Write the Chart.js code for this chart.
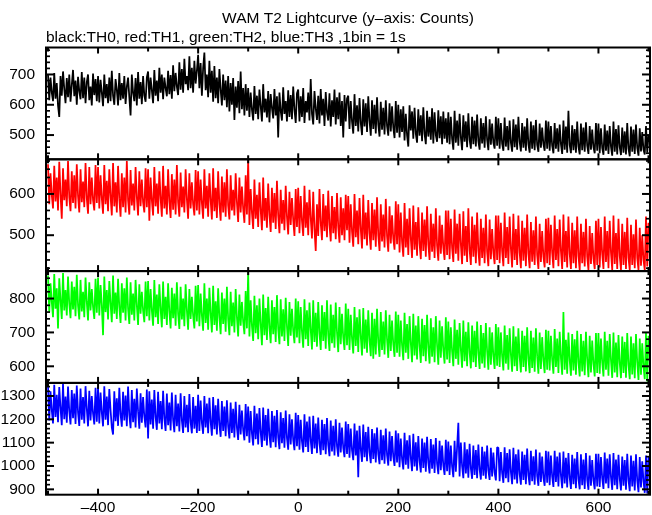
<!DOCTYPE html>
<html>
<head>
<meta charset="utf-8">
<script src="https://cdn.jsdelivr.net/npm/chart.js@4.4.1/dist/chart.umd.min.js"></script>
<style>
  html, body { margin: 0; padding: 0; background: #fff; }
  #wrap { width: 652px; height: 515px; position: relative; }
</style>
</head>
<body>
<div id="wrap"><canvas id="c"></canvas></div>
<script>
// ---- data (counts; one value every 2.5 s starting at -500 s) ----
const TIME_START = -500;
const TIME_STEP = 2.5;

const th0 = [ // black
  700,615,690,640,612,705,620,672,598,560,695,630,710,652,605,688,625,700,610,665,
  715,628,680,600,692,645,618,708,622,690,605,675,700,615,660,598,703,632,685,612,
  695,608,682,640,595,700,622,668,605,690,612,712,630,600,685,650,598,705,615,672,
  620,695,603,660,690,625,565,700,640,612,688,598,708,620,675,602,695,630,610,690,
  710,620,690,648,605,715,630,680,612,722,640,700,618,690,655,628,712,635,698,620,
  730,645,705,660,632,740,650,718,640,752,668,695,648,760,655,722,640,745,670,712,
  765,655,738,630,720,772,648,700,625,745,640,712,610,728,622,690,605,718,650,598,
  700,615,680,592,695,578,672,600,688,550,660,590,678,572,710,585,655,565,668,580,
  655,560,640,585,548,662,570,630,552,650,595,545,668,575,620,558,645,542,635,590,
  555,652,565,628,492,640,580,548,658,570,612,545,648,560,632,552,660,585,540,638,
  650,545,628,560,655,540,612,575,640,548,685,570,535,645,588,550,630,538,652,565,
  620,530,642,575,548,638,528,615,560,650,535,625,552,640,530,612,492,632,545,620,
  630,520,612,545,505,635,530,598,512,622,540,500,618,528,605,510,628,548,498,615,
  520,600,505,625,535,495,610,518,590,502,615,530,498,605,512,595,525,490,612,508,
  600,492,585,510,595,482,570,500,462,598,515,578,488,590,505,475,585,498,565,480,
  592,505,470,580,495,560,485,588,472,575,500,478,582,490,562,470,578,488,555,475,
  575,470,560,488,452,580,475,548,465,570,492,450,565,478,545,460,572,485,455,560,
  470,548,462,568,480,452,555,472,540,458,562,485,450,552,468,538,475,455,560,465,
  555,455,540,472,448,558,462,530,450,548,475,445,552,460,535,452,560,478,446,540,
  458,528,448,555,470,442,545,455,532,450,550,468,445,538,458,525,470,448,548,455,
  545,448,530,465,440,540,455,522,445,535,470,438,548,452,528,442,580,468,440,532,
  450,520,442,545,462,436,538,450,525,445,542,465,438,530,452,518,460,440,540,448,
  538,440,522,458,435,535,448,515,438,530,462,432,545,445,520,436,532,460,434,525,
  442,512,436,540,455,430,528,445,518,438,535,458,432,522,446,510,452,436,530,442,
  500
];
const th1 = [ // red
  672,575,650,598,565,668,582,640,560,678,600,540,662,585,635,570,680,592,558,655,
  578,645,565,672,595,555,660,580,630,568,675,590,552,665,575,640,585,560,670,578,
  665,565,645,590,552,670,575,632,558,660,595,548,675,570,628,555,668,588,545,650,
  568,640,555,680,585,550,658,572,625,560,665,592,548,655,570,635,580,555,662,568,
  660,535,640,585,548,665,570,625,552,655,590,545,668,565,620,550,660,582,542,648,
  562,635,550,670,580,545,652,568,618,555,660,588,540,650,565,628,575,548,658,560,
  655,550,635,578,540,660,565,620,545,650,585,538,662,558,615,542,655,575,535,642,
  555,628,545,660,572,538,645,560,610,548,650,580,532,640,555,618,565,530,645,550,
  682,525,612,555,515,635,540,598,520,628,562,512,640,535,590,518,625,550,508,615,
  530,602,515,632,548,505,610,528,585,512,620,545,502,605,525,590,538,498,612,520,
  615,505,595,535,498,620,518,580,500,610,542,492,605,515,462,575,498,612,530,488,
  600,510,572,495,608,525,485,595,505,568,490,602,520,482,592,500,565,488,598,512,
  595,482,575,510,472,600,495,560,478,590,515,468,598,490,555,475,585,505,465,578,
  488,562,472,592,500,462,575,485,550,470,588,498,460,570,480,548,492,465,582,478,
  575,458,555,485,448,578,470,540,452,565,492,445,572,465,532,450,568,480,442,555,
  462,538,448,570,478,440,552,460,528,445,565,475,438,548,455,525,470,440,560,452,
  560,442,540,470,435,562,455,528,438,552,478,430,558,450,522,435,565,465,428,545,
  448,525,432,555,462,426,540,445,518,432,550,460,425,538,442,515,458,430,548,440,
  548,432,530,462,425,555,445,520,430,545,468,422,552,440,515,428,548,458,420,535,
  438,518,425,550,455,420,532,436,512,428,545,452,418,528,435,510,448,422,540,432,
  542,428,525,458,420,548,440,515,425,538,462,418,550,435,510,422,545,455,418,530,
  432,512,420,545,450,416,528,432,508,424,540,448,416,522,430,505,444,418,535,428,
  540,422,520,455,418,545,435,510,420,535,458,416,548,430,505,418,540,450,416,528,
  428,508,418,542,445,416,525,428,502,420,538,445,416,518,426,500,440,416,545,424,
  530
];
const th2 = [ // green
  868,760,845,790,745,872,770,830,712,860,795,740,875,765,825,750,865,785,742,850,
  768,835,748,870,780,738,855,762,820,745,862,790,735,848,765,828,775,740,858,758,
  862,750,840,780,692,865,760,825,738,852,785,730,868,755,818,740,858,775,728,845,
  758,830,735,862,770,725,848,752,815,735,855,780,722,842,755,820,765,730,850,748,
  852,735,828,765,720,855,745,812,725,842,770,715,850,740,805,722,845,762,712,832,
  742,815,720,848,755,710,835,738,800,718,842,765,708,828,740,805,750,712,838,732,
  840,718,815,750,705,845,728,800,708,832,755,700,838,722,792,705,830,745,695,818,
  725,800,702,835,740,692,820,718,788,700,828,745,688,812,720,790,732,695,822,712,
  878,688,795,720,675,808,698,780,680,800,725,662,812,692,772,678,805,715,668,795,
  695,775,672,810,710,665,798,688,768,675,802,718,660,790,690,770,705,668,800,685,
  792,668,775,702,655,798,680,765,660,788,708,650,795,672,758,658,790,698,648,780,
  675,760,652,795,692,645,782,668,752,655,788,700,642,775,665,755,685,648,785,662,
  770,648,752,682,638,775,660,745,642,768,688,632,772,652,738,640,765,678,630,758,
  622,740,635,770,672,628,760,648,732,635,765,680,625,752,645,735,665,628,762,640,
  752,628,735,662,618,758,640,725,622,748,668,612,755,632,720,620,748,660,610,740,
  630,722,615,752,655,608,742,628,715,612,748,662,605,735,625,718,648,608,745,620,
  732,610,715,645,600,738,622,708,605,728,650,596,735,615,702,600,730,642,594,720,
  612,705,598,732,638,592,722,608,698,596,728,645,590,715,605,700,630,592,725,602,
  715,598,700,630,588,720,608,692,590,712,635,584,718,600,688,586,712,628,582,705,
  598,690,585,715,622,580,705,595,685,584,712,630,578,700,592,686,618,580,708,590,
  705,588,690,620,578,710,598,682,580,702,625,575,760,590,678,578,700,618,572,695,
  588,680,575,705,612,570,695,585,675,574,702,620,568,690,582,676,608,570,698,580,
  698,578,682,612,570,702,590,675,572,695,618,566,700,582,670,568,692,610,565,688,
  580,672,566,698,605,562,688,576,668,565,695,612,560,682,575,668,600,562,700,555,
  690
];
const th3 = [ // blue
  1345,1195,1320,1240,1182,1348,1210,1305,1188,1338,1250,1175,1352,1200,1298,1185,1340,1235,1178,1325,
  1205,1310,1180,1345,1230,1172,1332,1198,1295,1182,1342,1245,1170,1322,1195,1300,1225,1178,1335,1190,
  1338,1182,1315,1228,1170,1342,1198,1298,1175,1330,1240,1165,1135,1320,1192,1290,1172,1335,1222,1168,
  1318,1195,1302,1170,1340,1218,1162,1325,1188,1288,1165,1332,1235,1160,1312,1185,1295,1212,1165,1328,
  1118,1320,1178,1285,1160,1325,1210,1155,1318,1182,1278,1158,1322,1205,1150,1310,1175,1272,1152,1315,
  1198,1145,1305,1170,1268,1148,1312,1195,1142,1300,1165,1262,1145,1308,1188,1140,1295,1160,1258,1142,
  1305,1150,1280,1185,1138,1300,1165,1268,1140,1292,1190,1130,1295,1158,1260,1135,1288,1178,1125,1278,
  1150,1255,1128,1282,1170,1118,1272,1142,1245,1122,1275,1165,1112,1262,1135,1238,1155,1110,1265,1128,
  1255,1100,1235,1140,1088,1258,1115,1225,1092,1248,1145,1082,1250,1108,1218,1088,1245,1132,1078,1235,
  1102,1215,1080,1240,1125,1072,1230,1098,1205,1078,1238,1120,1070,1222,1092,1200,1112,1068,1228,1085,
  1218,1070,1198,1105,1058,1222,1082,1190,1060,1212,1110,1052,1215,1075,1182,1055,1208,1098,1048,1198,
  1068,1180,1050,1205,1090,1042,1195,1062,1172,1045,1200,1085,1040,1185,1058,1165,1078,1038,1190,1052,
  1180,1035,1160,1068,1025,1182,1045,1152,952,1172,1072,1018,1178,1038,1145,1020,1168,1060,1012,1158,
  1030,1140,1015,1165,1052,1008,1155,1025,1132,1010,1160,1048,1002,1148,1020,1128,1040,1000,1152,1015,
  1140,995,1118,1030,985,1142,1005,1110,988,1132,1035,978,1138,998,1102,980,1128,1022,972,1118,
  992,1100,975,1125,1015,968,1115,988,1092,970,1120,1010,965,1108,982,1088,1002,962,1112,978,
  1105,962,1088,998,952,1108,975,1080,1185,955,1100,1000,948,1102,968,1072,950,1095,990,945,
  1088,962,1068,948,1092,985,942,1082,958,1062,945,1088,980,940,1078,955,1058,972,938,1080,
  1078,935,1060,970,928,1080,948,1055,930,1072,975,922,1078,942,1050,925,1070,965,920,1062,
  940,1048,922,1075,960,918,1065,935,1042,920,1070,958,915,1058,932,1040,950,915,1065,928,
  1062,918,1045,955,910,1065,932,1040,912,1058,960,905,1062,925,1035,908,1055,950,902,1048,
  922,1032,905,1060,945,900,1050,918,1028,902,1055,942,898,1045,915,1025,938,900,1052,912,
  1052,910,1038,948,902,1058,925,1032,905,1050,952,898,1055,918,1028,900,1048,945,895,1040,
  915,1025,898,1052,940,892,1045,912,1022,895,1050,938,888,1038,908,1020,935,885,1045,882,
  1040
];

const seriesNames = ['TH0', 'TH1', 'TH2', 'TH3'];
const seriesColors = ['#000000', '#ff0000', '#00ff00', '#0000ff'];
const seriesValues = [th0, th1, th2, th3];
const yRanges = [[420, 789], [413, 684], [551, 881], [877, 1356]];
const xRange = [-504, 703];
const xMajorStep = 200, xMinorStep = 100;
const yMajorStep = 100, yMinorStep = 20;

const titleText = 'WAM T2 Lightcurve (y\u2013axis: Counts)';
const subtitleText = 'black:TH0, red:TH1, green:TH2, blue:TH3 ,1bin = 1s';

// ---- chart ----
const FONT = { family: '"Liberation Sans", Arial, Helvetica, sans-serif', size: 15.5, weight: 'normal' };
const fmt = v => (v < 0 ? '\u2013' + Math.abs(v) : String(v));
const tickValues = (lo, hi, step) => {
  const out = [];
  for (let v = Math.ceil(lo / step) * step; v <= hi; v += step) out.push(v);
  return out;
};

const datasets = seriesValues.map((vals, k) => ({
  label: seriesNames[k],
  data: vals.map((v, i) => ({ x: TIME_START + i * TIME_STEP, y: v })),
  yAxisID: 'y' + k,
  borderColor: seriesColors[k],
  backgroundColor: seriesColors[k],
  borderWidth: 1.75,
  borderJoinStyle: 'bevel',
  pointRadius: 0,
  tension: 0,
  fill: false
}));

const scales = {
  x: {
    type: 'linear',
    min: xRange[0], max: xRange[1],
    border: { display: false },
    grid: { display: false, drawTicks: false },
    afterBuildTicks: s => { s.ticks = tickValues(xRange[0], xRange[1], xMinorStep).map(v => ({ value: v })); },
    ticks: {
      autoSkip: false, maxRotation: 0, minRotation: 0,
      padding: 3.5, color: '#000', font: FONT,
      callback: v => (v % xMajorStep === 0 ? fmt(v) : '')
    },
    afterFit: s => { s.height = 18.5; }
  }
};
// define bottom panel first: Chart.js stacks left axes in reverse definition order
for (let k = 3; k >= 0; k--) {
  const r = yRanges[k];
  scales['y' + k] = {
    type: 'linear',
    position: 'left',
    stack: 'panels',
    stackWeight: 1,
    min: r[0], max: r[1],
    border: { display: false },
    grid: { display: false, drawTicks: false },
    afterBuildTicks: s => { s.ticks = tickValues(r[0], r[1], yMinorStep).map(v => ({ value: v })); },
    ticks: {
      autoSkip: false,
      padding: 11, color: '#000', font: FONT,
      callback: v => (v % yMajorStep === 0 ? String(v) : '')
    },
    afterFit: s => { s.width = 46; }
  };
}

const framePlugin = {
  id: 'frames',
  afterDatasetsDraw(chart) {
    const ctx = chart.ctx, a = chart.chartArea, xs = chart.scales.x;
    ctx.save();
    ctx.strokeStyle = '#000';
    const line = (x1, y1, x2, y2) => { ctx.beginPath(); ctx.moveTo(x1, y1); ctx.lineTo(x2, y2); ctx.stroke(); };
    const xt = tickValues(xRange[0], xRange[1], xMinorStep);
    for (let k = 0; k < 4; k++) {
      const s = chart.scales['y' + k];
      const r = yRanges[k];
      ctx.lineWidth = 2;
      ctx.strokeRect(a.left, s.top, a.right - a.left, s.bottom - s.top);
      tickValues(r[0], r[1], yMinorStep).forEach(v => {
        const y = s.getPixelForValue(v);
        if (y < s.top + 1 || y > s.bottom - 1) return;
        const major = v % yMajorStep === 0;
        ctx.lineWidth = major ? 2 : 1.7;
        const len = major ? 8 : 4;
        line(a.left, y, a.left + len, y);
        line(a.right, y, a.right - len, y);
      });
      xt.forEach(v => {
        const x = xs.getPixelForValue(v);
        const major = v % xMajorStep === 0;
        ctx.lineWidth = 2;
        const len = major ? 6 : 4;
        line(x, s.top, x, s.top + len);
        line(x, s.bottom, x, s.bottom - len);
      });
    }
    ctx.restore();
  }
};

new Chart(document.getElementById('c'), {
  type: 'line',
  data: { datasets },
  options: {
    responsive: true,
    maintainAspectRatio: false,
    animation: false,
    layout: { padding: { left: 0, right: 2, top: 0, bottom: 0 } },
    plugins: {
      legend: { display: false },
      tooltip: { enabled: false },
      title: {
        display: true, text: titleText, color: '#000', font: FONT,
        align: 'center', fullSize: false, padding: { top: 9.5, bottom: 0 }
      },
      subtitle: {
        display: true, text: subtitleText, color: '#000', font: FONT,
        align: 'start', fullSize: false, padding: { top: 0.4, bottom: 0.4 }
      }
    },
    scales
  },
  plugins: [framePlugin]
});
</script>
</body>
</html>
